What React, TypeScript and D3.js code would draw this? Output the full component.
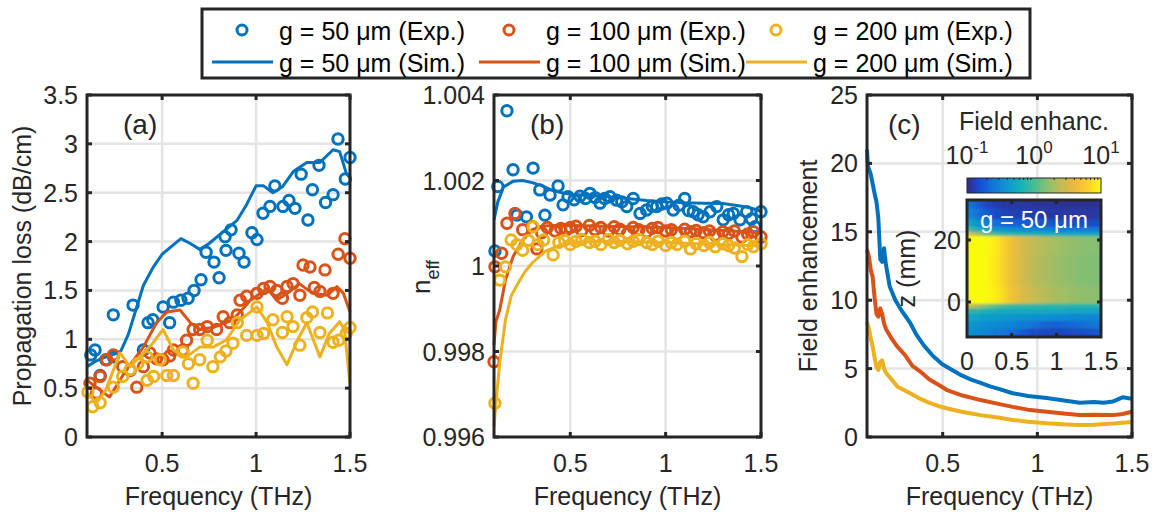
import React from 'react';
import * as d3 from 'd3';

type Pt = [number, number];

const FONT = '"Liberation Sans", Arial, Helvetica, sans-serif';
const INK = '#262626';
const GRID = '#e4e4e4';
const BLUE = '#0072BD';
const ORANGE = '#D95319';
const YELLOW = '#EDB120';

const freqDomain: [number, number] = [0.1, 1.5];
const freqTicks = [0.5, 1, 1.5];

// (a) propagation loss, [THz, dB/cm]
const lossExp50: Pt[] = [
  [0.12, 0.84], [0.143, 0.89], [0.17, 0.63], [0.2, 0.79], [0.24, 0.82], [0.24, 1.25], [0.345, 1.35],
  [0.4, 0.89], [0.425, 1.17], [0.45, 1.2], [0.505, 1.33], [0.54, 1.17], [0.56, 1.38], [0.6, 1.4],
  [0.638, 1.42], [0.67, 1.5], [0.707, 1.61], [0.734, 1.89], [0.776, 1.79], [0.803, 1.63], [0.84, 1.91],
  [0.835, 2.05], [0.867, 2.12], [0.909, 1.88], [0.936, 1.79], [0.978, 2.09], [1.005, 2.02], [1.037, 2.29],
  [1.074, 2.36], [1.1, 2.57], [1.143, 2.36], [1.175, 2.42], [1.207, 2.34], [1.24, 2.69], [1.276, 2.22],
  [1.3, 2.53], [1.335, 2.78], [1.37, 2.4], [1.41, 2.48], [1.436, 3.05], [1.475, 2.64], [1.5, 2.86],
];
const lossSim50: Pt[] = [
  [0.1, 0.72], [0.15, 0.78], [0.2, 0.82], [0.25, 0.85], [0.28, 0.88], [0.32, 1.05], [0.36, 1.3],
  [0.4, 1.55], [0.45, 1.73], [0.5, 1.87], [0.55, 1.95], [0.6, 2.03], [0.65, 1.98], [0.7, 1.92],
  [0.75, 1.98], [0.8, 2.06], [0.85, 2.14], [0.9, 2.22], [0.95, 2.38], [1.0, 2.57], [1.04, 2.57],
  [1.09, 2.5], [1.14, 2.56], [1.2, 2.72], [1.27, 2.81], [1.34, 2.81], [1.41, 2.94], [1.445, 2.92],
  [1.48, 2.7], [1.5, 2.65],
];
const lossExp100: Pt[] = [
  [0.116, 0.55], [0.15, 0.45], [0.17, 0.62], [0.205, 0.79], [0.24, 0.84], [0.29, 0.72], [0.33, 0.68],
  [0.365, 0.51], [0.4, 0.72], [0.435, 0.86], [0.47, 0.8], [0.505, 0.79], [0.54, 0.83], [0.56, 0.89],
  [0.61, 0.89], [0.63, 0.99], [0.665, 1.1], [0.7, 1.1], [0.74, 1.13], [0.79, 1.1], [0.825, 1.23],
  [0.86, 1.17], [0.9, 1.25], [0.915, 1.4], [0.95, 1.44], [1.005, 1.47], [1.04, 1.52], [1.074, 1.54],
  [1.11, 1.5], [1.14, 1.42], [1.165, 1.54], [1.197, 1.57], [1.233, 1.45], [1.25, 1.76], [1.287, 1.74],
  [1.31, 1.53], [1.34, 1.49], [1.367, 1.71], [1.41, 1.47], [1.437, 1.87], [1.473, 2.03], [1.5, 1.83],
];
const lossSim100: Pt[] = [
  [0.1, 0.58], [0.17, 0.48], [0.22, 0.41], [0.31, 0.69], [0.4, 0.92], [0.47, 1.17], [0.525, 1.28],
  [0.595, 1.3], [0.65, 1.17], [0.7, 1.1], [0.77, 1.12], [0.877, 1.2], [0.97, 1.4], [1.06, 1.52],
  [1.11, 1.4], [1.18, 1.49], [1.23, 1.57], [1.3, 1.47], [1.38, 1.45], [1.43, 1.54], [1.465, 1.47],
  [1.5, 1.28],
];
const lossExp200: Pt[] = [
  [0.105, 0.46], [0.13, 0.31], [0.17, 0.35], [0.24, 0.51], [0.29, 0.62], [0.33, 0.69], [0.37, 0.75],
  [0.42, 0.82], [0.42, 0.58], [0.455, 0.62], [0.49, 0.79], [0.525, 0.63], [0.56, 0.63], [0.61, 0.87],
  [0.64, 0.75], [0.665, 0.55], [0.7, 0.79], [0.74, 0.99], [0.77, 0.72], [0.81, 0.82], [0.84, 0.88],
  [0.877, 0.96], [0.9, 1.17], [0.95, 1.04], [1.005, 1.33], [1.005, 1.04], [1.04, 1.06], [1.09, 1.2],
  [1.14, 1.07], [1.165, 1.23], [1.197, 1.13], [1.233, 0.94], [1.27, 1.22], [1.3, 1.28], [1.34, 1.07],
  [1.38, 1.27], [1.41, 0.97], [1.44, 0.99], [1.48, 1.06], [1.5, 1.12],
];
const lossSim200: Pt[] = [
  [0.1, 0.45], [0.15, 0.35], [0.2, 0.48], [0.275, 0.86], [0.33, 0.72], [0.38, 0.82], [0.45, 0.96],
  [0.505, 1.1], [0.56, 0.89], [0.63, 0.82], [0.7, 0.92], [0.77, 0.92], [0.84, 0.99], [0.915, 1.2],
  [1.005, 1.33], [1.06, 1.17], [1.11, 0.92], [1.165, 0.74], [1.22, 0.99], [1.27, 1.17], [1.34, 0.82],
  [1.39, 1.06], [1.445, 1.18], [1.47, 1.1], [1.5, 0.55],
];

// (b) effective index
const neffExp50: Pt[] = [
  [0.105, 1.00035], [0.12, 1.00186], [0.168, 1.00363], [0.2, 1.00225], [0.22, 1.00119], [0.27, 1.00115],
  [0.305, 1.00229], [0.34, 1.00178], [0.367, 1.00119], [0.394, 1.00166], [0.436, 1.00187], [0.462, 1.00143],
  [0.488, 1.00162], [0.52, 1.00155], [0.551, 1.00163], [0.58, 1.00158], [0.603, 1.0017], [0.63, 1.0016],
  [0.656, 1.00147], [0.68, 1.00158], [0.708, 1.00162], [0.743, 1.00154], [0.77, 1.0015], [0.796, 1.00139],
  [0.83, 1.00158], [0.866, 1.00123], [0.9, 1.00131], [0.93, 1.0014], [0.953, 1.00139], [0.98, 1.00145],
  [1.006, 1.00147], [1.04, 1.00131], [1.07, 1.00142], [1.1, 1.00158], [1.12, 1.0013], [1.145, 1.00127],
  [1.17, 1.0012], [1.197, 1.00115], [1.233, 1.00127], [1.268, 1.00139], [1.302, 1.00108], [1.33, 1.0012],
  [1.355, 1.00123], [1.39, 1.00108], [1.425, 1.00127], [1.45, 1.0011], [1.469, 1.00092], [1.5, 1.00127],
];
const neffSim50: Pt[] = [
  [0.1, 1.00108], [0.12, 1.0015], [0.15, 1.00185], [0.2, 1.00198], [0.25, 1.002], [0.3, 1.00195],
  [0.35, 1.00188], [0.4, 1.00178], [0.45, 1.00172], [0.5, 1.00168], [0.6, 1.00165], [0.7, 1.00162],
  [0.8, 1.00158], [0.9, 1.00153], [1.0, 1.0015], [1.1, 1.00148], [1.2, 1.00147], [1.3, 1.00146],
  [1.4, 1.0014], [1.45, 1.00135], [1.5, 1.00128],
];
const neffExp100: Pt[] = [
  [0.1, 0.99776], [0.105, 0.99998], [0.14, 1.0003], [0.168, 1.001], [0.21, 1.00123], [0.25, 1.00085],
  [0.3, 1.00092], [0.325, 1.0004], [0.35, 1.00078], [0.38, 1.0009], [0.42, 1.00082], [0.45, 1.00088],
  [0.48, 1.00085], [0.5, 1.0009], [0.53, 1.00093], [0.56, 1.00083], [0.6, 1.00095], [0.63, 1.00085],
  [0.66, 1.0009], [0.7, 1.00082], [0.73, 1.00092], [0.76, 1.00086], [0.8, 1.00076], [0.83, 1.0009],
  [0.86, 1.00085], [0.9, 1.0008], [0.93, 1.00088], [0.96, 1.0009], [1.0, 1.00082], [1.03, 1.00085],
  [1.06, 1.00075], [1.1, 1.00086], [1.13, 1.0008], [1.16, 1.00083], [1.2, 1.00078], [1.23, 1.00082],
  [1.26, 1.00072], [1.3, 1.0008], [1.33, 1.00076], [1.36, 1.00082], [1.4, 1.00068], [1.43, 1.00075],
  [1.46, 1.0008], [1.5, 1.00068],
];
const neffSim100: Pt[] = [
  [0.1, 0.99815], [0.11, 0.9987], [0.13, 0.99897], [0.16, 0.99967], [0.2, 1.00022], [0.25, 1.0006],
  [0.3, 1.00085], [0.35, 1.00093], [0.4, 1.00095], [0.5, 1.00095], [0.7, 1.00093], [1.0, 1.0009],
  [1.3, 1.00083], [1.5, 1.00078],
];
const neffExp200: Pt[] = [
  [0.105, 0.99679], [0.13, 0.99967], [0.16, 0.99998], [0.19, 1.00061], [0.22, 1.0005], [0.25, 1.00037],
  [0.28, 1.0006], [0.305, 1.00092], [0.33, 1.0005], [0.36, 1.00061], [0.41, 1.00026], [0.44, 1.00055],
  [0.47, 1.0006], [0.5, 1.0005], [0.53, 1.00058], [0.56, 1.00062], [0.6, 1.00055], [0.63, 1.00058],
  [0.66, 1.0005], [0.7, 1.00062], [0.73, 1.00055], [0.76, 1.0006], [0.8, 1.00052], [0.83, 1.00058],
  [0.86, 1.00062], [0.9, 1.00055], [0.93, 1.0005], [0.96, 1.00058], [1.0, 1.00048], [1.03, 1.00055],
  [1.06, 1.0005], [1.1, 1.00058], [1.13, 1.0004], [1.16, 1.00052], [1.2, 1.00048], [1.23, 1.00055],
  [1.26, 1.00045], [1.3, 1.00052], [1.33, 1.00048], [1.36, 1.00042], [1.4, 1.00022], [1.43, 1.0005],
  [1.46, 1.00045], [1.5, 1.00052],
];
const neffSim200: Pt[] = [
  [0.1, 0.99624], [0.11, 0.9968], [0.13, 0.99773], [0.16, 0.99874], [0.19, 0.9993], [0.22, 0.99955],
  [0.26, 0.99985], [0.3, 1.00007], [0.37, 1.00035], [0.45, 1.0005], [0.55, 1.00056], [0.7, 1.00058],
  [1.0, 1.00055], [1.3, 1.0005], [1.5, 1.00047],
];

// (c) field enhancement
const fieldSim50: Pt[] = [
  [0.1, 21.0], [0.105, 19.8], [0.12, 19.2], [0.14, 17.8], [0.15, 17.2], [0.16, 16.0], [0.17, 13.0],
  [0.18, 12.8], [0.19, 13.8], [0.2, 12.6], [0.22, 11.0], [0.25, 10.0], [0.28, 9.3], [0.3, 8.9],
  [0.33, 8.3], [0.36, 7.5], [0.4, 6.7], [0.45, 5.9], [0.5, 5.3], [0.55, 4.9], [0.6, 4.5], [0.65, 4.2],
  [0.7, 3.95], [0.75, 3.7], [0.8, 3.5], [0.87, 3.2], [0.95, 3.0], [1.05, 2.85], [1.15, 2.65],
  [1.225, 2.5], [1.3, 2.55], [1.35, 2.5], [1.4, 2.6], [1.45, 2.9], [1.5, 2.8],
];
const fieldSim100: Pt[] = [
  [0.1, 13.7], [0.11, 13.2], [0.12, 12.2], [0.13, 11.7], [0.14, 10.2], [0.15, 9.0], [0.16, 8.8],
  [0.17, 9.4], [0.18, 9.0], [0.19, 8.3], [0.2, 7.9], [0.23, 7.2], [0.26, 6.6], [0.3, 6.0], [0.34, 5.2],
  [0.38, 4.8], [0.43, 4.2], [0.48, 3.8], [0.52, 3.45], [0.6, 3.05], [0.7, 2.7], [0.8, 2.4], [0.87, 2.2],
  [0.95, 2.0], [1.05, 1.85], [1.15, 1.7], [1.225, 1.6], [1.3, 1.62], [1.4, 1.6], [1.45, 1.68], [1.5, 1.85],
];
const fieldSim200: Pt[] = [
  [0.1, 8.4], [0.11, 7.9], [0.12, 7.2], [0.13, 6.6], [0.14, 5.8], [0.15, 5.1], [0.16, 4.9], [0.17, 5.5],
  [0.18, 5.6], [0.19, 5.0], [0.2, 4.7], [0.23, 4.2], [0.26, 3.7], [0.3, 3.4], [0.34, 3.1], [0.38, 2.8],
  [0.43, 2.5], [0.48, 2.25], [0.52, 2.1], [0.6, 1.85], [0.7, 1.6], [0.8, 1.4], [0.87, 1.25], [0.95, 1.12],
  [1.05, 1.0], [1.15, 0.92], [1.225, 0.88], [1.3, 0.9], [1.4, 0.98], [1.5, 1.1],
];

// inset: log10(field enhancement) over frequency (THz) x z (mm), g = 50 um
const insetFreq = [0, 0.1, 0.2, 0.3, 0.4, 0.5, 0.6, 0.7, 0.8, 0.9, 1.0, 1.1, 1.2, 1.3, 1.4, 1.5];
const insetZ = [32, 28, 25, 23, 21.7, 20.5, 10, 0, -1.5, -3, -5, -7.5, -10, -12];
const insetLog: number[][] = [
  [-0.55, -0.7, -0.82, -0.88, -0.92, -0.93, -0.93, -0.94, -0.95, -0.95, -0.95, -0.96, -0.96, -0.96, -0.96, -0.96],
  [-0.45, -0.6, -0.72, -0.8, -0.86, -0.88, -0.88, -0.9, -0.9, -0.92, -0.92, -0.93, -0.93, -0.93, -0.93, -0.93],
  [-0.25, -0.4, -0.52, -0.62, -0.68, -0.7, -0.72, -0.74, -0.75, -0.76, -0.78, -0.78, -0.8, -0.8, -0.8, -0.82],
  [0.05, -0.15, -0.28, -0.36, -0.4, -0.44, -0.46, -0.48, -0.5, -0.52, -0.54, -0.55, -0.56, -0.57, -0.58, -0.6],
  [0.6, 0.4, 0.2, 0.05, -0.05, -0.1, -0.12, -0.15, -0.17, -0.2, -0.22, -0.24, -0.25, -0.26, -0.27, -0.28],
  [1, 1, 1, 0.95, 0.82, 0.66, 0.52, 0.44, 0.38, 0.33, 0.29, 0.26, 0.23, 0.21, 0.2, 0.19],
  [1, 1, 1, 0.94, 0.8, 0.64, 0.5, 0.42, 0.36, 0.31, 0.27, 0.24, 0.21, 0.19, 0.18, 0.17],
  [1, 1, 1, 0.96, 0.84, 0.68, 0.55, 0.46, 0.4, 0.35, 0.31, 0.28, 0.25, 0.23, 0.22, 0.21],
  [0.5, 0.35, 0.2, 0.1, 0.0, -0.05, -0.08, -0.1, -0.1, -0.12, -0.12, -0.12, -0.14, -0.14, -0.14, -0.14],
  [-0.1, -0.15, -0.2, -0.22, -0.24, -0.25, -0.26, -0.26, -0.27, -0.27, -0.28, -0.28, -0.3, -0.3, -0.3, -0.3],
  [-0.3, -0.32, -0.35, -0.37, -0.38, -0.4, -0.42, -0.42, -0.44, -0.45, -0.46, -0.48, -0.5, -0.5, -0.52, -0.52],
  [-0.4, -0.42, -0.45, -0.48, -0.5, -0.52, -0.55, -0.6, -0.65, -0.7, -0.72, -0.7, -0.68, -0.65, -0.62, -0.6],
  [-0.45, -0.48, -0.5, -0.55, -0.6, -0.65, -0.72, -0.8, -0.82, -0.85, -0.85, -0.85, -0.82, -0.8, -0.78, -0.75],
  [-0.5, -0.52, -0.55, -0.6, -0.68, -0.75, -0.8, -0.85, -0.88, -0.9, -0.9, -0.9, -0.9, -0.88, -0.85, -0.82],
];

// MATLAB parula, sampled
const parula = [
  '#352a87', '#1250d6', '#1378d8', '#0e98d0', '#17b0b8', '#47bc94', '#89c06f',
  '#c2bb55', '#ecb93e', '#fccf2b', '#f9fb0e',
];

const legendRows = [
  { label: 'g = 50 μm', color: BLUE },
  { label: 'g = 100 μm', color: ORANGE },
  { label: 'g = 200 μm', color: YELLOW },
];

type Scale = d3.ScaleLinear<number, number>;

function Panel(props: {
  left: number; right: number; top: number; bottom: number;
  yDomain: [number, number]; yTicks: number[]; tag: string; tagX: number;
  children: (x: Scale, y: Scale) => React.ReactNode;
}) {
  const { left, right, top, bottom, yDomain, yTicks, tag, tagX } = props;
  const x = d3.scaleLinear().domain(freqDomain).range([left, right]);
  const y = d3.scaleLinear().domain(yDomain).range([bottom, top]);
  const tl = 5;
  return (
    <g>
      <rect x={left} y={top} width={right - left} height={bottom - top} fill="#fff" />
      {freqTicks.map((t) => (
        <line key={'gx' + t} x1={x(t)} x2={x(t)} y1={top} y2={bottom} stroke={GRID} strokeWidth={2.5} />
      ))}
      {yTicks.map((t) => (
        <line key={'gy' + t} x1={left} x2={right} y1={y(t)} y2={y(t)} stroke={GRID} strokeWidth={2.5} />
      ))}
      {props.children(x, y)}
      <text x={tagX} y={134} fontSize={28} fill={INK}>{tag}</text>
      {freqTicks.map((t) => (
        <g key={'tx' + t}>
          <line x1={x(t)} x2={x(t)} y1={bottom} y2={bottom - tl} stroke={INK} strokeWidth={3} />
          <line x1={x(t)} x2={x(t)} y1={top} y2={top + tl} stroke={INK} strokeWidth={3} />
          <text x={x(t)} y={bottom + 35} textAnchor="middle" fontSize={25} fill={INK}>{String(t)}</text>
        </g>
      ))}
      {yTicks.map((t) => (
        <g key={'ty' + t}>
          <line x1={left} x2={left + tl} y1={y(t)} y2={y(t)} stroke={INK} strokeWidth={3} />
          <line x1={right} x2={right - tl} y1={y(t)} y2={y(t)} stroke={INK} strokeWidth={3} />
          <text x={left - 9} y={y(t) + 9} textAnchor="end" fontSize={25} fill={INK}>{String(t)}</text>
        </g>
      ))}
      <rect x={left} y={top} width={right - left} height={bottom - top} fill="none" stroke={INK} strokeWidth={3} />
      <text x={(left + right) / 2} y={505} textAnchor="middle" fontSize={25} fill={INK}>Frequency (THz)</text>
    </g>
  );
}

function Circles({ data, x, y, color }: { data: Pt[]; x: Scale; y: Scale; color: string }) {
  return (
    <g>
      {data.map((d, i) => (
        <circle key={i} cx={x(d[0])} cy={y(d[1])} r={5.2} fill="none" stroke={color} strokeWidth={3} />
      ))}
    </g>
  );
}

function Curve({ data, x, y, color, width = 3 }: { data: Pt[]; x: Scale; y: Scale; color: string; width?: number }) {
  const line = d3.line<Pt>().x((d) => x(d[0])).y((d) => y(d[1]));
  return <path d={line(data) || ''} fill="none" stroke={color} strokeWidth={width} strokeLinejoin="round" />;
}

function Inset() {
  const left = 967, right = 1101, top = 200, bottom = 337;
  const fx = d3.scaleLinear().domain([0, 1.5]).range([left, right]);
  const zy = d3.scaleLinear().domain([-11.3, 32.9]).range([bottom, top]);
  const color = d3.scaleSequential(d3.interpolateRgbBasis(parula)).domain([-1, 1]);
  const cb = d3.scaleLinear().domain([-1, 1]).range([left, right]);
  const cbTop = 178, cbBottom = 193;
  const dx = fx(0.1) - fx(0);
  const zEdges = insetZ.map((z, i) => {
    const up = i === 0 ? 40 : (z + insetZ[i - 1]) / 2;
    const down = i === insetZ.length - 1 ? -20 : (z + insetZ[i + 1]) / 2;
    return [up, down];
  });
  const minor: number[] = [];
  [-1, 0].forEach((e) => {
    for (let k = 2; k <= 9; k++) minor.push(Math.log10(k) + e);
  });
  return (
    <g>
      <defs>
        <linearGradient id="parula" x1="0" x2="1" y1="0" y2="0">
          {parula.map((c, i) => (
            <stop key={i} offset={i / (parula.length - 1)} stopColor={c} />
          ))}
        </linearGradient>
        <clipPath id="insetClip">
          <rect x={left} y={top} width={right - left} height={bottom - top} />
        </clipPath>
        <filter id="soft" x="-10%" y="-10%" width="120%" height="120%">
          <feGaussianBlur stdDeviation="3.5 1.2" />
        </filter>
      </defs>
      <text x={cb(0)} y={130} textAnchor="middle" fontSize={25} fill={INK}>Field enhanc.</text>
      {[-1, 0, 1].map((e) => (
        <text key={e} x={cb(e)} y={164} textAnchor="middle" fontSize={25} fill={INK}>
          10<tspan fontSize={17} dy={-11}>{String(e)}</tspan>
        </text>
      ))}
      <rect x={left} y={cbTop} width={right - left} height={cbBottom - cbTop} fill="url(#parula)" stroke={INK} strokeWidth={1} />
      {minor.map((m, i) => (
        <line key={i} x1={cb(m)} x2={cb(m)} y1={cbTop} y2={cbTop + 2} stroke={INK} strokeWidth={1} />
      ))}
      <g clipPath="url(#insetClip)">
        <rect x={left} y={top} width={right - left} height={bottom - top} fill={color(-0.5)} />
        <g filter="url(#soft)">
          {insetLog.map((row, i) =>
            row.map((v, j) => (
              <rect
                key={i + '-' + j}
                x={fx(insetFreq[j]) - dx / 2 - 0.5}
                y={zy(zEdges[i][0]) - 0.5}
                width={dx + 1}
                height={zy(zEdges[i][1]) - zy(zEdges[i][0]) + 1}
                fill={color(v)}
              />
            ))
          )}
        </g>
      </g>
      <text x={(left + right) / 2} y={228} textAnchor="middle" fontSize={24} fill="#fff">g = 50 μm</text>
      {[0.5, 1].map((t) => (
        <g key={'ix' + t}>
          <line x1={fx(t)} x2={fx(t)} y1={top} y2={top + 4} stroke={INK} strokeWidth={3} />
          <line x1={fx(t)} x2={fx(t)} y1={bottom} y2={bottom - 4} stroke={INK} strokeWidth={3} />
        </g>
      ))}
      {[0, 20].map((t) => (
        <g key={'iz' + t}>
          <line x1={left} x2={left + 4} y1={zy(t)} y2={zy(t)} stroke={INK} strokeWidth={3} />
          <line x1={right} x2={right - 4} y1={zy(t)} y2={zy(t)} stroke={INK} strokeWidth={3} />
          <text x={961} y={zy(t) + 9} textAnchor="end" fontSize={25} fill={INK}>{String(t)}</text>
        </g>
      ))}
      {[0, 0.5, 1, 1.5].map((t) => (
        <text key={'il' + t} x={fx(t)} y={370} textAnchor="middle" fontSize={25} fill={INK}>{String(t)}</text>
      ))}
      <rect x={left} y={top} width={right - left} height={bottom - top} fill="none" stroke={INK} strokeWidth={3} />
      <text transform={`translate(915,${(top + bottom) / 2}) rotate(-90)`} textAnchor="middle" fontSize={25} fill={INK}>z (mm)</text>
    </g>
  );
}

function Legend() {
  const colStep = 267;
  return (
    <g>
      <rect x={202} y={9} width={828} height={69} fill="#fff" stroke={INK} strokeWidth={3} />
      {legendRows.map((r, c) => (
        <g key={r.label} transform={`translate(${c * colStep},0)`}>
          <circle cx={242} cy={30} r={5} fill="none" stroke={r.color} strokeWidth={3} />
          <text x={279} y={40} fontSize={25} fill="#000">{r.label + ' (Exp.)'}</text>
          <line x1={212} x2={273} y1={62} y2={62} stroke={r.color} strokeWidth={3} />
          <text x={279} y={72} fontSize={25} fill="#000">{r.label + ' (Sim.)'}</text>
        </g>
      ))}
    </g>
  );
}

export default function App() {
  return (
    <svg
      width={1165}
      height={512}
      viewBox="0 0 1165 512"
      style={{ position: 'absolute', left: 0, top: 0, background: '#fff', fontFamily: FONT }}
    >
      <rect width={1165} height={512} fill="#fff" />
      <Panel left={87} right={350} top={95} bottom={437} yDomain={[0, 3.5]} yTicks={[0, 0.5, 1, 1.5, 2, 2.5, 3, 3.5]} tag="(a)" tagX={123}>
        {(x, y) => (
          <g>
            <Circles data={lossExp50} x={x} y={y} color={BLUE} />
            <Curve data={lossSim50} x={x} y={y} color={BLUE} />
            <Circles data={lossExp100} x={x} y={y} color={ORANGE} />
            <Curve data={lossSim100} x={x} y={y} color={ORANGE} />
            <Circles data={lossExp200} x={x} y={y} color={YELLOW} />
            <Curve data={lossSim200} x={x} y={y} color={YELLOW} />
          </g>
        )}
      </Panel>
      <text transform="translate(31,266) rotate(-90)" textAnchor="middle" fontSize={25} fill={INK}>Propagation loss (dB/cm)</text>

      <Panel left={494} right={761} top={95} bottom={437} yDomain={[0.996, 1.004]} yTicks={[0.996, 0.998, 1, 1.002, 1.004]} tag="(b)" tagX={530}>
        {(x, y) => (
          <g>
            <Circles data={neffExp50} x={x} y={y} color={BLUE} />
            <Curve data={neffSim50} x={x} y={y} color={BLUE} />
            <Circles data={neffExp100} x={x} y={y} color={ORANGE} />
            <Curve data={neffSim100} x={x} y={y} color={ORANGE} />
            <Circles data={neffExp200} x={x} y={y} color={YELLOW} />
            <Curve data={neffSim200} x={x} y={y} color={YELLOW} />
          </g>
        )}
      </Panel>
      <text transform="translate(430,277) rotate(-90)" textAnchor="middle" fontSize={26} fill={INK}>
        n<tspan fontSize={18} dy={9}>eff</tspan>
      </text>

      <Panel left={867} right={1132} top={95} bottom={437} yDomain={[0, 25]} yTicks={[0, 5, 10, 15, 20, 25]} tag="(c)" tagX={888}>
        {(x, y) => (
          <g>
            <Curve data={fieldSim50} x={x} y={y} color={BLUE} width={4} />
            <Curve data={fieldSim100} x={x} y={y} color={ORANGE} width={4} />
            <Curve data={fieldSim200} x={x} y={y} color={YELLOW} width={4} />
            <Inset />
          </g>
        )}
      </Panel>
      <text transform="translate(817,266) rotate(-90)" textAnchor="middle" fontSize={25} fill={INK}>Field enhancement</text>

      <Legend />
    </svg>
  );
}
